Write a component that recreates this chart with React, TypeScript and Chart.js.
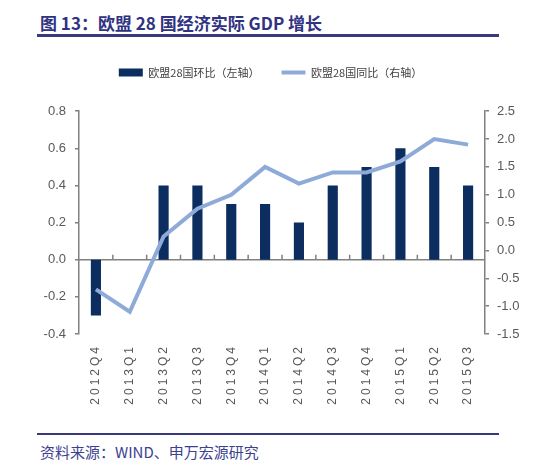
import { useEffect, useRef } from "react";
import { Chart, registerables } from "chart.js";

Chart.register(...registerables);

const categories = [
  "2012Q4", "2013Q1", "2013Q2", "2013Q3", "2013Q4", "2014Q1",
  "2014Q2", "2014Q3", "2014Q4", "2015Q1", "2015Q2", "2015Q3",
];
const qoqValues = [-0.3, 0, 0.4, 0.4, 0.3, 0.3, 0.2, 0.4, 0.5, 0.6, 0.5, 0.4];
const yoyValues = [-0.7, -1.1, 0.25, 0.75, 1.0, 1.5, 1.2, 1.4, 1.4, 1.6, 2.0, 1.9];
const seriesNames = ["欧盟28国环比（左轴）", "欧盟28国同比（右轴）"];
const leftAxisRange = [-0.4, 0.8, 0.2];
const rightAxisRange = [-1.5, 2.5, 0.5];
const titleText = "图 13：欧盟 28 国经济实际 GDP 增长";
const sourceText = "资料来源：WIND、申万宏源研究";

const BAR_COLOR = "#0c2d5f";
const LINE_COLOR = "#8eaad8";
const AXIS_COLOR = "#808080";
const TICK_COLOR = "#595959";
const HEAD_COLOR = "#2f3382";
const CJK = '"Noto Sans CJK SC", "Noto Sans", sans-serif';
const LATIN = '"Liberation Sans", Arial, sans-serif';

const zeroLinePlugin = {
  id: "zeroLine",
  beforeDatasetsDraw(chart: any) {
    const { ctx, chartArea, scales } = chart;
    const y0 = scales.y.getPixelForValue(0);
    const xs = scales.x;
    ctx.save();
    ctx.strokeStyle = AXIS_COLOR;
    ctx.lineWidth = 1.5;
    ctx.beginPath();
    ctx.moveTo(chartArea.left, y0);
    ctx.lineTo(chartArea.right, y0);
    for (let i = 0; i < categories.length - 1; i++) {
      const xm = (xs.getPixelForValue(i) + xs.getPixelForValue(i + 1)) / 2;
      ctx.moveTo(xm, y0);
      ctx.lineTo(xm, y0 - 5);
    }
    ctx.stroke();
    ctx.restore();
  },
};

export default function App() {
  const canvasRef = useRef<HTMLCanvasElement | null>(null);

  useEffect(() => {
    document.body.style.margin = "0";
    const canvas = canvasRef.current;
    if (!canvas) return;
    const chart = new Chart(canvas, {
      type: "bar",
      data: {
        labels: categories,
        datasets: [
          {
            type: "bar",
            label: seriesNames[0],
            data: qoqValues,
            backgroundColor: BAR_COLOR,
            borderWidth: 0,
            barPercentage: 0.3,
            categoryPercentage: 1,
            yAxisID: "y",
            order: 1,
          },
          {
            type: "line",
            label: seriesNames[1],
            data: yoyValues,
            borderColor: LINE_COLOR,
            backgroundColor: LINE_COLOR,
            borderWidth: 4,
            pointRadius: 0,
            tension: 0,
            yAxisID: "y1",
            order: 0,
          } as any,
        ],
      },
      plugins: [zeroLinePlugin],
      options: {
        responsive: false,
        animation: false,
        layout: { padding: { top: 0, left: 0, right: 0, bottom: 0 } },
        font: { family: LATIN },
        plugins: {
          tooltip: { enabled: false },
          title: {
            display: true,
            text: "",
            weight: 500,
            position: "top",
            font: { size: 1 },
            padding: { top: 22, bottom: 0 },
          } as any,
          legend: {
            display: true,
            position: "top",
            labels: {
              usePointStyle: true,
              pointStyleWidth: 24,
              boxHeight: 8,
              padding: 22,
              color: "#404040",
              font: { size: 11, family: CJK },
              generateLabels: () => [
                {
                  text: seriesNames[0],
                  fillStyle: BAR_COLOR,
                  strokeStyle: BAR_COLOR,
                  lineWidth: 0,
                  pointStyle: "rect",
                  datasetIndex: 0,
                  hidden: false,
                  fontColor: "#404040",
                } as any,
                {
                  text: seriesNames[1],
                  fillStyle: LINE_COLOR,
                  strokeStyle: LINE_COLOR,
                  lineWidth: 4,
                  pointStyle: "line",
                  datasetIndex: 1,
                  hidden: false,
                  fontColor: "#404040",
                } as any,
              ],
            },
          },
        },
        scales: {
          x: {
            grid: { display: false, drawTicks: false },
            border: { display: false },
            ticks: {
              minRotation: 90,
              maxRotation: 90,
              autoSkip: false,
              padding: 10,
              color: TICK_COLOR,
              font: { size: 12, family: LATIN },
            },
            afterFit: (s: any) => {
              s.height = 96;
            },
          },
          y: {
            position: "left",
            min: leftAxisRange[0],
            max: leftAxisRange[1],
            ticks: {
              stepSize: leftAxisRange[2],
              padding: 9,
              color: TICK_COLOR,
              font: { size: 13, family: LATIN },
              callback: (v: any) => Number(v).toFixed(1),
            },
            grid: {
              drawOnChartArea: false,
              drawTicks: true,
              tickLength: 4,
              color: AXIS_COLOR,
              lineWidth: 1.5,
            },
            border: { color: AXIS_COLOR, width: 1.5 },
            afterFit: (s: any) => {
              s.width = 79;
            },
          },
          y1: {
            position: "right",
            min: rightAxisRange[0],
            max: rightAxisRange[1],
            ticks: {
              stepSize: rightAxisRange[2],
              padding: 8,
              color: TICK_COLOR,
              font: { size: 13, family: LATIN },
              callback: (v: any) => Number(v).toFixed(1),
            },
            grid: {
              drawOnChartArea: false,
              drawTicks: true,
              tickLength: 4,
              color: AXIS_COLOR,
              lineWidth: 1.5,
            },
            border: { color: AXIS_COLOR, width: 1.5 },
            afterFit: (s: any) => {
              s.width = 56;
            },
          },
        },
      } as any,
    });

    const xs: any = chart.scales.x;
    const origDraw = xs.drawLabels.bind(xs);
    xs.drawLabels = (area: any) => {
      const c: any = chart.ctx;
      const prev = c.letterSpacing;
      c.letterSpacing = "3px";
      origDraw(area);
      c.letterSpacing = prev || "0px";
    };
    chart.draw();

    return () => chart.destroy();
  }, []);

  return (
    <div style={{ position: "relative", width: 541, height: 471, background: "#fff", overflow: "hidden" }}>
      <div
        style={{
          position: "absolute",
          left: 40,
          top: 12,
          fontSize: 17,
          fontWeight: 700,
          lineHeight: "22px",
          color: HEAD_COLOR,
          fontFamily: CJK,
          whiteSpace: "nowrap",
        }}
      >
        {titleText}
      </div>
      <div style={{ position: "absolute", left: 37, top: 34, width: 462, height: 3, background: "#393a7e" }} />
      <div style={{ position: "absolute", left: 0, top: 45, width: 541, height: 385 }}>
        <canvas ref={canvasRef} width={541} height={385} style={{ width: 541, height: 385, display: "block" }} />
      </div>
      <div style={{ position: "absolute", left: 37, top: 433, width: 462, height: 2, background: "#393a7e" }} />
      <div
        style={{
          position: "absolute",
          left: 40,
          top: 441,
          fontSize: 15,
          lineHeight: "22px",
          color: "#3d3f90",
          fontFamily: CJK,
          whiteSpace: "nowrap",
        }}
      >
        {sourceText}
      </div>
    </div>
  );
}
